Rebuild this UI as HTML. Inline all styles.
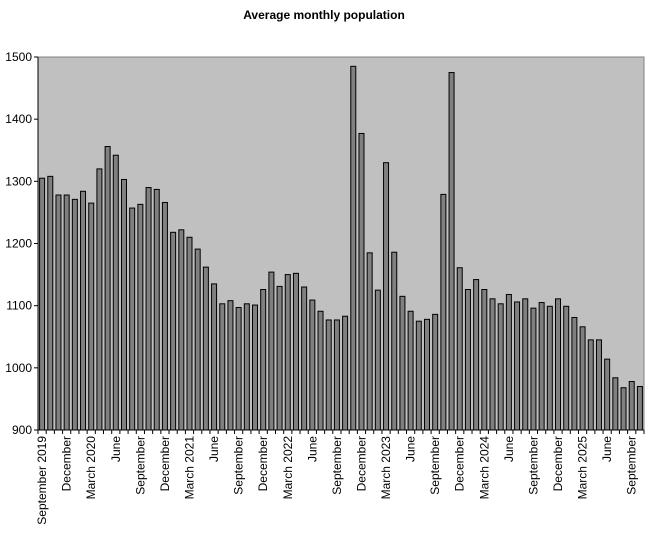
<!DOCTYPE html>
<html><head><meta charset="utf-8"><style>
body{margin:0;background:#fff;}
svg text{font-family:"Liberation Sans",Arial,sans-serif;font-size:12px;fill:#000;}
</style></head><body>
<svg id="chart" width="653" height="544" xmlns="http://www.w3.org/2000/svg">
<text x="324" y="19" text-anchor="middle" font-weight="bold">Average monthly population</text>
<rect x="38" y="57" width="606" height="373" fill="#c0c0c0" stroke="#808080"/>
<g id="bars"></g><g id="axes"></g>
</svg>
<script>
const months=["September","October","November","December","January","February","March","April","May","June","July","August"];
const startYear=2019;
const values=[1305,1308,1278,1278,1271,1284,1265,1320,1356,1342,1303,1257,1263,1290,1287,1266,1218,1222,1210,1191,1162,1135,1103,1108,1097,1103,1101,1126,1154,1131,1150,1152,1130,1109,1091,1077,1077,1083,1485,1377,1185,1125,1330,1186,1115,1091,1075,1078,1086,1279,1475,1161,1126,1142,1126,1111,1103,1118,1106,1111,1096,1105,1099,1111,1099,1081,1066,1045,1045,1014,984,968,978,970];
const yTicks=[900,1000,1100,1200,1300,1400,1500];
const NS="http://www.w3.org/2000/svg";
const x0=38,x1=644,y0=430,y1=57,vmin=900,vmax=1500;
const n=values.length,step=(x1-x0)/n;
const ys=v=>y0-(v-vmin)/(vmax-vmin)*(y0-y1);
const xs=i=>x0+i*step;
function mk(t,a,p){const e=document.createElementNS(NS,t);for(const k in a)e.setAttribute(k,a[k]);p.appendChild(e);return e;}
const bars=document.getElementById('bars'),axes=document.getElementById('axes');
values.forEach((v,i)=>{
 const r=mk('rect',{x:xs(i)+step/2-2.5,y:ys(v),width:5,height:y0-ys(v),fill:'#808080',stroke:'#000','stroke-width':1},bars);
 
 
});
const ax=mk('line',{x1:x0,y1:y1,x2:x0,y2:y0,stroke:'#000'},axes);


const bx=mk('line',{x1:x0,y1:y0,x2:x1,y2:y0,stroke:'#000'},axes);


yTicks.forEach(t=>{
 mk('line',{x1:x0-4,y1:ys(t),x2:x0,y2:ys(t),stroke:'#000'},axes);
 const tx=mk('text',{x:x0-6,y:ys(t)+4,'text-anchor':'end'},axes);
 tx.textContent=t;
 
 
});
for(let i=0;i<=n;i++) mk('line',{x1:xs(i),y1:y0,x2:xs(i),y2:y0+4,stroke:'#000'},axes);
values.forEach((v,i)=>{
 if(i%3) return;
 const m=i%12, yr=startYear+Math.floor((i+8)/12);
 let lab=months[m];
 if(i===0||lab==="March") lab+=" "+yr;
 const cx=xs(i)+step/2+4, cy=y0+6;
 const tx=mk('text',{x:cx,y:cy,'text-anchor':'end',transform:`rotate(-90 ${cx} ${cy})`},axes);
 tx.textContent=lab;
 
 
});
</script>
</body></html>
